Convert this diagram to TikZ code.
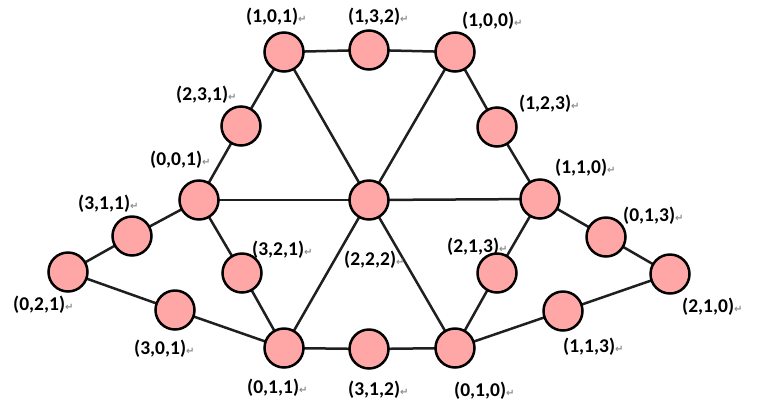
\documentclass[tikz,border=0pt]{standalone}
\usepackage{fontspec}
\usetikzlibrary{backgrounds}
\setmainfont{Carlito}
\newfontfamily\dejavu{DejaVu Sans}
\definecolor{nodepink}{RGB}{255,166,166}
\definecolor{retgray}{RGB}{140,140,140}
\newcommand{\ret}{\textcolor{retgray}{\dejavu\fontsize{10}{10}\selectfont ↵}}
\tikzset{
  vtx/.style={circle, draw=black, fill=nodepink, line width=2.5pt, minimum size=39pt, inner sep=0pt},
  edge/.style={line width=2.5pt, draw=black!88},
  lab/.style={anchor=base west, inner sep=0pt, font=\bfseries\fontsize{19.5}{20}\selectfont}
}
\begin{document}
\begin{tikzpicture}[x=1pt,y=-1pt]
\useasboundingbox (0,0) rectangle (770,405);
% vertices
\node[vtx] (v101) at (284,52) {};
\node[vtx] (v132) at (369,50) {};
\node[vtx] (v100) at (455,52) {};
\node[vtx] (v231) at (241,126) {};
\node[vtx] (v123) at (497,127) {};
\node[vtx] (v001) at (199,200) {};
\node[vtx] (v222) at (369,200) {};
\node[vtx] (v110) at (540,199) {};
\node[vtx] (v311) at (132,236) {};
\node[vtx] (v013) at (606,237) {};
\node[vtx] (v021) at (68,272) {};
\node[vtx] (v210) at (670,274) {};
\node[vtx] (v321) at (242,273) {};
\node[vtx] (v213) at (497,273) {};
\node[vtx] (v301) at (175,310) {};
\node[vtx] (v113) at (563,311) {};
\node[vtx] (v011) at (284,348) {};
\node[vtx] (v312) at (369,349) {};
\node[vtx] (v010) at (455,348) {};
% edges
\begin{scope}[on background layer]
\draw[edge] (v101.center) -- (v132.center);
\draw[edge] (v132.center) -- (v100.center);
\draw[edge] (v101.center) -- (v231.center);
\draw[edge] (v231.center) -- (v001.center);
\draw[edge] (v100.center) -- (v123.center);
\draw[edge] (v123.center) -- (v110.center);
\draw[edge] (v001.center) -- (v222.center);
\draw[edge] (v222.center) -- (v110.center);
\draw[edge] (v101.center) -- (v222.center);
\draw[edge] (v222.center) -- (v010.center);
\draw[edge] (v100.center) -- (v222.center);
\draw[edge] (v222.center) -- (v011.center);
\draw[edge] (v001.center) -- (v321.center);
\draw[edge] (v321.center) -- (v011.center);
\draw[edge] (v110.center) -- (v213.center);
\draw[edge] (v213.center) -- (v010.center);
\draw[edge] (v011.center) -- (v312.center);
\draw[edge] (v312.center) -- (v010.center);
\draw[edge] (v001.center) -- (v311.center);
\draw[edge] (v311.center) -- (v021.center);
\draw[edge] (v021.center) -- (v301.center);
\draw[edge] (v301.center) -- (v011.center);
\draw[edge] (v110.center) -- (v013.center);
\draw[edge] (v013.center) -- (v210.center);
\draw[edge] (v210.center) -- (v113.center);
\draw[edge] (v113.center) -- (v010.center);
\end{scope}
% labels
\node[lab] (l101) at (246,22) {(1,0,1)\ret};
\node[lab] (l132) at (348,22) {(1,3,2)\ret};
\node[lab] (l100) at (462,26) {(1,0,0)\ret};
\node[lab] (l231) at (176,100) {(2,3,1)\ret};
\node[lab] (l123) at (519,109) {(1,2,3)\ret};
\node[lab] (l001) at (150,165) {(0,0,1)\ret};
\node[lab] (l110) at (555,173) {(1,1,0)\ret};
\node[lab] (l311) at (78,209) {(3,1,1)\ret};
\node[lab] (l013) at (623,221) {(0,1,3)\ret};
\node[lab] (l321) at (252,255) {(3,2,1)\ret};
\node[lab] (l213) at (447,252) {(2,1,3)\ret};
\node[lab] (l222) at (344,265) {(2,2,2)\ret};
\node[lab] (l021) at (13,310) {(0,2,1)\ret};
\node[lab] (l210) at (682,312) {(2,1,0)\ret};
\node[lab] (l301) at (134,354) {(3,0,1)\ret};
\node[lab] (l113) at (563,352) {(1,1,3)\ret};
\node[lab] (l011) at (247,393) {(0,1,1)\ret};
\node[lab] (l312) at (348,395) {(3,1,2)\ret};
\node[lab] (l010) at (454,396) {(0,1,0)\ret};
\end{tikzpicture}
\end{document}
